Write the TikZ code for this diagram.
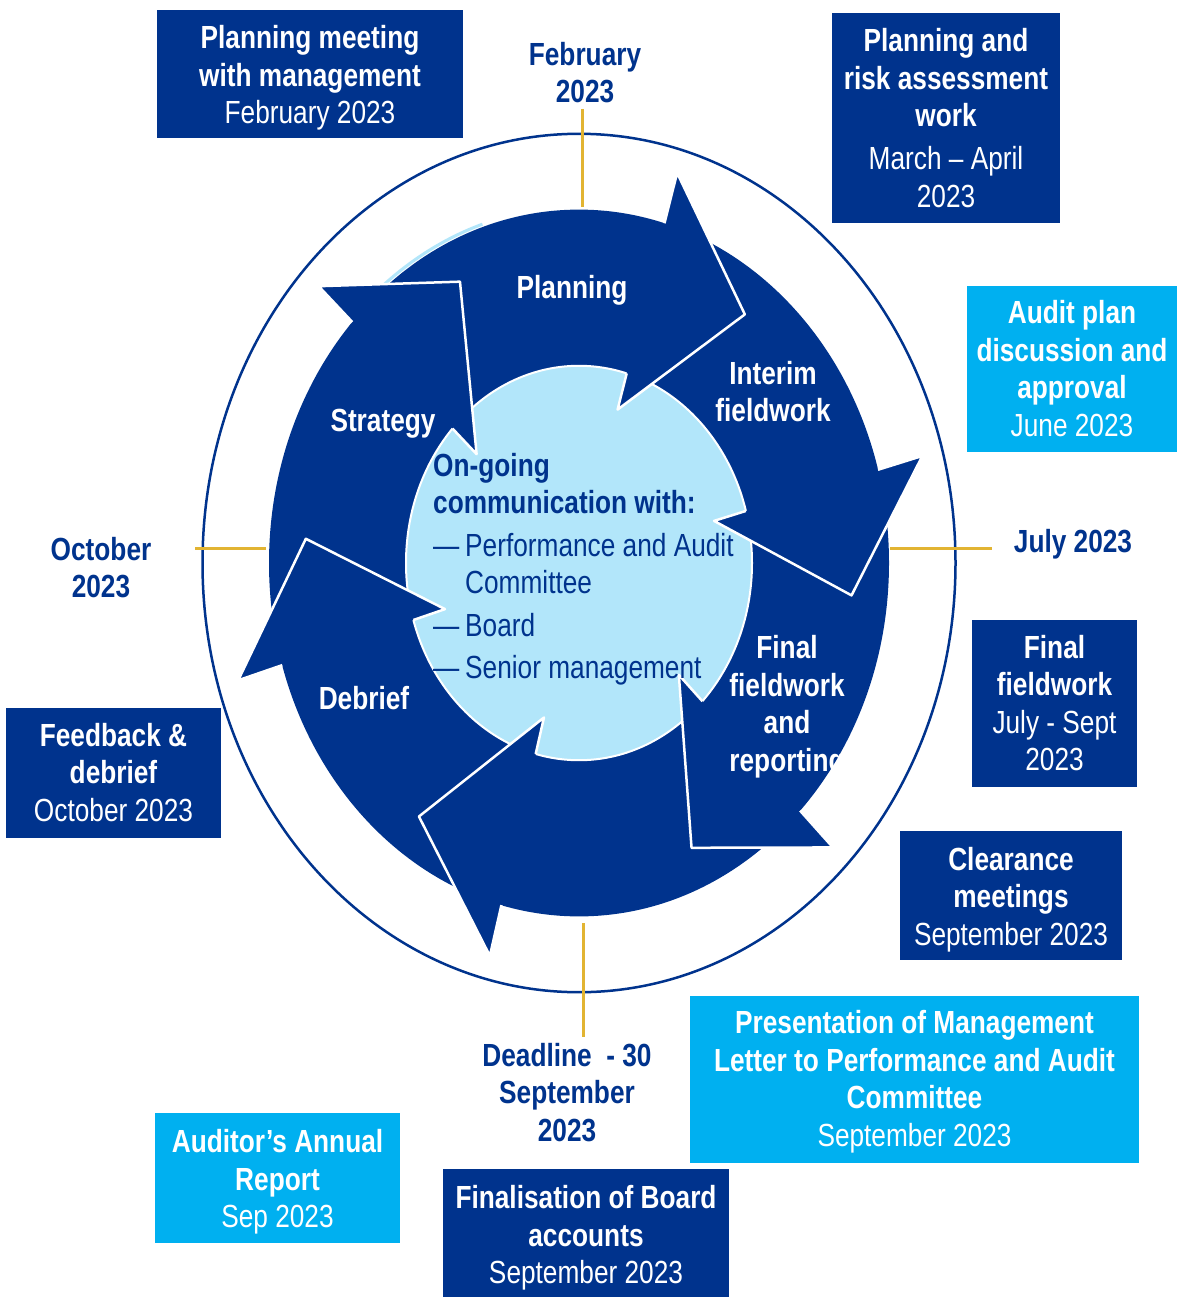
\documentclass[tikz,border=0pt]{standalone}
\usepackage{fontspec}
\setmainfont{Liberation Sans}[FakeStretch=0.82]
\definecolor{navy}{RGB}{0,51,141}
\definecolor{skyblue}{RGB}{0,176,240}
\definecolor{pale}{RGB}{178,230,250}
\definecolor{gold}{RGB}{226,180,50}
\begin{document}
\begin{tikzpicture}[x=1pt,y=-1pt,
  txt/.style={font=\fontsize{32}{37.5}\selectfont, align=center, inner sep=0pt,
    execute at begin node=\strut, execute at end node=\strut},
  darkbox/.style={fill=navy, inner sep=0pt},
  lightbox/.style={fill=skyblue, inner sep=0pt},
  boxlabel/.style={txt, text=white},
  month/.style={txt, text=navy, font=\fontsize{32}{37.5}\selectfont\bfseries},
  arrowlabel/.style={txt, text=white, font=\fontsize{32}{37.5}\selectfont\bfseries},
  goldline/.style={draw=gold, line width=3pt},
  headfill/.style={fill=navy},
  headedge/.style={draw=white, line width=2.5pt, line join=round}
]
\useasboundingbox (0,0) rectangle (1178,1297);
\fill[white] (0,0) rectangle (1178,1297);
\clip (0,0) rectangle (1178,1297);

% ---------------- cycle ----------------
\begin{scope}[shift={(579,563)}, yscale=-1.14]
  \draw[navy, line width=2.5pt] (0,0) circle[radius=376.5];
  \fill[navy, even odd rule] (0,0) circle[radius=310] (0,0) circle[radius=173];
  \draw[pale, line width=3pt] (137:312.5) arc[start angle=137, end angle=108, radius=312.5];
  \filldraw[fill=pale, draw=white, line width=2pt] (0,0) circle[radius=173];
  \foreach \a in {137,74,15.3,-44.5,-104.5,-163.2} {
    \fill[headfill] (\a:356) -- (\a-21.25:274) -- (\a:140) -- cycle;
    \draw[headedge] (\a:310) -- (\a:356) -- (\a-21.25:274) -- (\a:140) -- (\a:173);
  }
\end{scope}

% ---------------- ticks ----------------
\coordinate (tn1) at (582.5,109);  \coordinate (tn2) at (582.5,207);
\coordinate (ts1) at (583.5,923);  \coordinate (ts2) at (583.5,1037);
\coordinate (tw1) at (195,548);    \coordinate (tw2) at (266,548);
\coordinate (te1) at (890,548);    \coordinate (te2) at (992,548);
\draw[goldline] (tn1) -- (tn2);
\draw[goldline] (ts1) -- (ts2);
\draw[goldline] (tw1) -- (tw2);
\draw[goldline] (te1) -- (te2);

% ---------------- month labels ----------------
\node[month] (feb) at (585,78) {February\\2023};
\node[month] (oct) at (101,573) {October\\2023};
\node[month] (jul) at (1073,545) {July 2023};
\node[month] (dead) at (567,1098) {Deadline~~- 30\\September\\2023};

% ---------------- arrow labels ----------------
\node[arrowlabel] (planning) at (572,291) {Planning};
\node[arrowlabel] (interim) at (773,397) {Interim\\fieldwork};
\node[arrowlabel] (strategy) at (383,424) {Strategy};
\node[arrowlabel] (final) at (787,709) {Final\\fieldwork\\and\\reporting};
\node[arrowlabel] (debrief) at (364,702) {Debrief};

% ---------------- centre text ----------------
\node[txt, align=left, text=navy, anchor=north west] (comm) at (433,453)
  {\textbf{On-going}\\
   \textbf{communication with:}\\[5pt]
   \makebox[32pt][l]{—}Performance and Audit\\
   \hspace*{32pt}Committee\\[5pt]
   \makebox[32pt][l]{—}Board\\[5pt]
   \makebox[32pt][l]{—}Senior management};

% ---------------- boxes ----------------
\node[darkbox, minimum width=306pt, minimum height=128pt] (b1) at (310,74) {};
\node[boxlabel] (b1t) at (310,80.5)
  {\textbf{Planning meeting}\\ \textbf{with management}\\ February 2023};
\node[darkbox, minimum width=228pt, minimum height=210pt] (b2) at (946,118) {};
\node[boxlabel] (b2t) at (946,123.5)
  {\textbf{Planning and}\\ \textbf{risk assessment}\\ \textbf{work}\\[5.5pt] March – April\\ 2023};
\node[lightbox, minimum width=210pt, minimum height=166pt] (b3) at (1072,369) {};
\node[boxlabel] (b3t) at (1072,374)
  {\textbf{Audit plan}\\ \textbf{discussion and}\\ \textbf{approval}\\ June 2023};
\node[darkbox, minimum width=165pt, minimum height=167pt] (b4) at (1054.5,703.5) {};
\node[boxlabel] (b4t) at (1054.5,708.5)
  {\textbf{Final}\\ \textbf{fieldwork}\\ July - Sept\\ 2023};
\node[darkbox, minimum width=222pt, minimum height=129pt] (b5) at (1011,895.5) {};
\node[boxlabel] (b5t) at (1011,902)
  {\textbf{Clearance}\\ \textbf{meetings}\\ September 2023};
\node[lightbox, minimum width=449pt, minimum height=167pt] (b6) at (914.5,1079.5) {};
\node[boxlabel] (b6t) at (914.5,1084)
  {\textbf{Presentation of Management}\\ \textbf{Letter to Performance and Audit}\\ \textbf{Committee}\\ September 2023};
\node[darkbox, minimum width=286pt, minimum height=132pt] (b7) at (586,1235) {};
\node[boxlabel] (b7t) at (586,1240.5)
  {\textbf{Finalisation of Board}\\ \textbf{accounts}\\ September 2023};
\node[lightbox, minimum width=245pt, minimum height=130pt] (b8) at (277.5,1178) {};
\node[boxlabel] (b8t) at (277.5,1184.5)
  {\textbf{Auditor’s Annual}\\ \textbf{Report}\\ Sep 2023};
\node[darkbox, minimum width=215pt, minimum height=130pt] (b9) at (113.5,773) {};
\node[boxlabel] (b9t) at (113.5,778)
  {\textbf{Feedback \&}\\ \textbf{debrief}\\ October 2023};
\end{tikzpicture}
\end{document}
